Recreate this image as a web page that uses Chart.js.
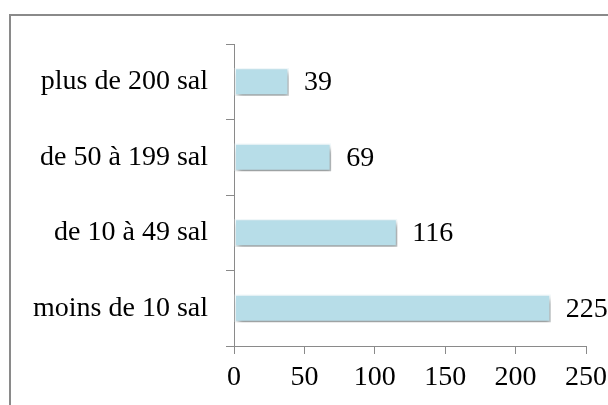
<!DOCTYPE html>
<html>
<head>
<meta charset="utf-8">
<script src="https://cdn.jsdelivr.net/npm/chart.js@4"></script>
<style>
  html, body { margin: 0; padding: 0; background: #ffffff; overflow: hidden; }
  #wrap { position: relative; width: 608px; height: 405px; }
  #frame { position: absolute; left: 9px; top: 14px; width: 700px; height: 500px; border: 2px solid #8a8a8a; box-sizing: border-box; }
  #c { position: absolute; left: 0; top: 0; }
</style>
</head>
<body>
<div id="wrap">
  <div id="frame"></div>
  <canvas id="c" width="608" height="405"></canvas>
</div>
<script>
const categories = ["plus de 200 sal", "de 50 à 199 sal", "de 10 à 49 sal", "moins de 10 sal"];
const values = [39, 69, 116, 225];
const xTicks = [0, 50, 100, 150, 200, 250];

const FONT = "'Liberation Serif', 'Times New Roman', serif";

const shadowPlugin = {
  id: 'barShadow',
  beforeDatasetsDraw(chart) {
    const ctx = chart.ctx;
    ctx.save();
    ctx.shadowColor = 'rgba(0,0,0,0.4)';
    ctx.shadowOffsetX = 2;
    ctx.shadowOffsetY = 4;
    ctx.shadowBlur = 5;
  },
  afterDatasetsDraw(chart) {
    chart.ctx.restore();
  }
};

const labelPlugin = {
  id: 'valueLabels',
  afterDatasetsDraw(chart) {
    const ctx = chart.ctx;
    const meta = chart.getDatasetMeta(0);
    ctx.save();
    ctx.font = "28px " + FONT;
    ctx.fillStyle = '#000000';
    ctx.textAlign = 'left';
    ctx.textBaseline = 'middle';
    meta.data.forEach((bar, i) => {
      ctx.fillText(String(values[i]), bar.x + 15, bar.y + 1);
    });
    ctx.restore();
  }
};

new Chart(document.getElementById('c'), {
  type: 'bar',
  data: {
    labels: categories,
    datasets: [{
      data: values,
      backgroundColor: '#b7dde8',
      borderColor: '#f2f9fb',
      borderWidth: 1.5,
      borderSkipped: false,
      barPercentage: 0.37,
      categoryPercentage: 1.0
    }]
  },
  options: {
    indexAxis: 'y',
    responsive: false,
    animation: false,
    events: [],
    layout: { padding: { left: 10, top: 44, right: 22, bottom: 0 } },
    plugins: { legend: { display: false }, tooltip: { enabled: false } },
    scales: {
      x: {
        min: 0, max: 250,
        afterBuildTicks(scale) { scale.ticks = xTicks.map(v => ({ value: v })); },
        afterFit(scale) { scale.height = 59; scale.paddingLeft = 0; scale.paddingRight = 0; },
        grid: { drawOnChartArea: false, drawTicks: true, tickLength: 8, color: '#8a8a8a', lineWidth: 1 },
        border: { display: true, color: '#8a8a8a', width: 1 },
        ticks: { color: '#000000', font: { family: FONT, size: 28 }, padding: 7, maxRotation: 0, autoSkip: false }
      },
      y: {
        afterFit(scale) { scale.width = 224; scale.paddingTop = 0; scale.paddingBottom = 0; },
        grid: { drawOnChartArea: false, drawTicks: true, tickLength: 8, color: '#8a8a8a', lineWidth: 1, offset: true },
        border: { display: true, color: '#8a8a8a', width: 1 },
        ticks: { color: '#000000', font: { family: FONT, size: 28 }, padding: 18 }
      }
    }
  },
  plugins: [shadowPlugin, labelPlugin]
});
</script>
</body>
</html>
